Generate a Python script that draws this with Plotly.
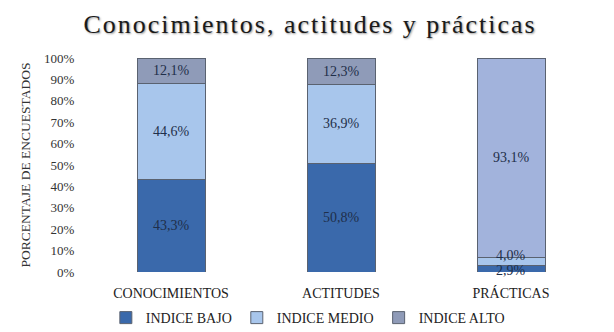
import plotly.graph_objects as go

categories = ["CONOCIMIENTOS", "ACTITUDES", "PRÁCTICAS"]
bajo = [43.3, 50.8, 2.9]
medio = [44.6, 36.9, 4.0]
alto = [12.1, 12.3, 93.1]
series_names = ["INDICE BAJO", "INDICE MEDIO", "INDICE ALTO"]
y_ticks = [0, 10, 20, 30, 40, 50, 60, 70, 80, 90, 100]

serif = "Liberation Serif"
col_bajo = "#3a69ab"
col_medio = "#a8c6ec"
col_alto = ["#8f9bb8", "#8f9bb8", "#a2b3dc"]

fig = go.Figure()
for name, vals, col in [(series_names[0], bajo, col_bajo),
                        (series_names[1], medio, col_medio),
                        (series_names[2], alto, col_alto)]:
    fig.add_trace(go.Bar(
        x=categories, y=vals, name=name, width=0.4,
        marker=dict(color=col, line=dict(color="#5a6270", width=1)),
        hoverinfo="skip",
    ))

def fmt(v):
    return f"{v:.1f}%".replace(".", ",")

annotations = []
for i, cat in enumerate(categories):
    base = 0
    for j, vals in enumerate([bajo, medio, alto]):
        v = vals[i]
        mid = base + v / 2
        shift = 0
        if v < 5:
            shift = -2 if j == 0 else 6
        annotations.append(dict(
            x=cat, y=mid, text=fmt(v), showarrow=False, yshift=shift,
            font=dict(family=serif, size=14, color="#1f2f4a"),
        ))
        base += v

fig.update_layout(
    width=614, height=332,
    margin=dict(l=78, r=26, t=50, b=68, autoexpand=False),
    paper_bgcolor="white", plot_bgcolor="white",
    barmode="stack",
    title=dict(text="Conocimientos, actitudes y prácticas", x=0.492, xanchor="center",
               y=0.952, yanchor="middle", automargin=False,
               font=dict(family=serif, size=26, color="#1a1a1a",
                         shadow="1px 1px 2px #9a9a9a")),
    xaxis=dict(range=[-0.5, 2.5], showline=False, ticks="outside", ticklen=8,
               tickcolor="rgba(0,0,0,0)", automargin=False,
               tickfont=dict(family=serif, size=14, color="#222222")),
    yaxis=dict(range=[0, 100], tickvals=y_ticks, ticktext=[f"{t}%" for t in y_ticks],
               showgrid=False, zeroline=False, showline=False, ticks="outside",
               ticklen=8, tickcolor="rgba(0,0,0,0)", automargin=False,
               tickfont=dict(family=serif, size=13, color="#333333"),
               title=dict(text="PORCENTAJE DE ENCUESTADOS", standoff=10,
                          font=dict(family=serif, size=13.5, color="#333333"))),
    legend=dict(orientation="h", x=0.435, xanchor="center", y=-0.215, yanchor="middle",
                font=dict(family=serif, size=14, color="#222222"),
                itemwidth=30, traceorder="normal"),
    annotations=annotations,
    showlegend=True,
)

post = ("var t=document.querySelector('.gtitle');"
        "if(t){t.style.letterSpacing='2px';}")
fig.write_html("out.html", post_script=post)
